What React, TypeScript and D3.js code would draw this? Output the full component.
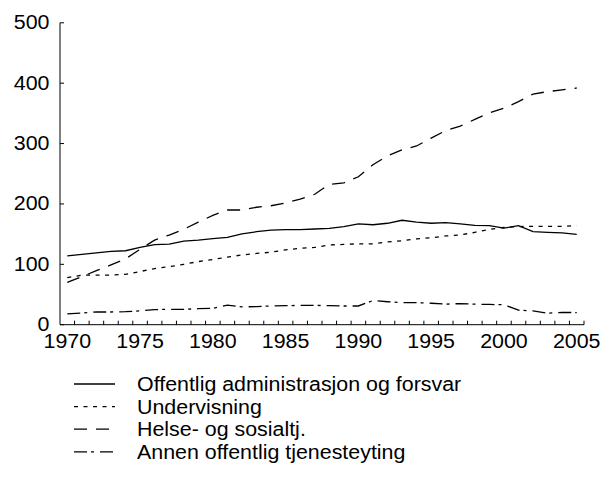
import React from "react";
import * as d3 from "d3";

const years: number[] = d3.range(1970, 2006);
const yTicks = [0, 100, 200, 300, 400, 500];
const xLabelYears = [1970, 1975, 1980, 1985, 1990, 1995, 2000, 2005];

const seriesNames = [
  "Offentlig administrasjon og forsvar",
  "Undervisning",
  "Helse- og sosialtj.",
  "Annen offentlig tjenesteyting",
];

const offentligAdm = [
  114, 116.5, 119, 121.5, 122.5, 128, 132.5, 133.5, 138.5, 140, 142.5, 144.5, 150.5, 154, 156.5, 157.5,
  157.5, 158.5, 159.5, 162.5, 167, 165.5, 168, 173, 170, 168, 169, 167, 164.5, 164, 160, 164, 154, 153, 152, 149.5,
];
const undervisning = [
  78, 82, 82, 82, 83.5, 88, 93, 96, 100, 104.5, 108, 112, 115.5, 118, 120, 124,
  126.5, 128, 132, 133, 134, 134, 137, 139, 142, 144, 147, 148.5, 153, 158, 161, 162.5, 163, 163, 163, 164,
];
const helse = [
  70, 79.5, 89.5, 99, 109, 125, 140, 148.5, 158, 170, 181, 190, 190, 194.5, 197, 201.5,
  208, 216, 232.5, 235, 245, 265, 279.5, 289.5, 296, 309, 321.5, 329, 340, 351, 358.5, 369.5, 382, 386, 389, 392,
];
const annen = [
  18, 19.5, 21, 21, 21.5, 23, 25, 25.5, 25.5, 26.5, 27, 32.5, 29.5, 30, 31, 31.5,
  32, 32, 31.5, 31, 31, 40, 38, 36.5, 36.5, 35.5, 34, 35, 34, 33.5, 33, 24, 23, 19, 20.5, 20,
];

const seriesValues = [offentligAdm, undervisning, helse, annen];
const dashes = ["none", "4 5.5", "13 9", "13 4 3 6"];

const FONT = "'Liberation Sans', Arial, Helvetica, sans-serif";
const SX = 1.07;

function T(props: { x: number; y: number; anchor?: string; dy?: string; children: React.ReactNode }) {
  return (
    <g transform={`translate(${props.x},${props.y}) scale(${SX},1)`}>
      <text x={0} y={0} dy={props.dy} textAnchor={props.anchor || "start"} fontSize={20} fill="#000">
        {props.children}
      </text>
    </g>
  );
}

export default function App() {
  const x = d3.scaleBand<number>().domain(years).range([60, 584]).paddingInner(0).paddingOuter(0);
  const y = d3.scaleLinear().domain([0, 500]).range([324.7, 22.8]);
  const cx = (yr: number) => (x(yr) as number) + x.bandwidth() / 2;
  const line = d3
    .line<number>()
    .x((_, i) => cx(years[i]))
    .y((v) => y(v));

  const boundaries = d3.range(1, years.length + 1).map((i) => 60 + i * x.bandwidth());

  const legendY0 = 384;
  const legendStep = 22.6;

  return (
    <svg
      width={602}
      height={483}
      style={{ position: "absolute", left: 0, top: 0, background: "#fff" }}
      fontFamily={FONT}
    >
      <rect x={0} y={0} width={602} height={483} fill="#fff" />
      {/* y axis */}
      <line x1={60} x2={60} y1={y(500)} y2={y(0)} stroke="#000" strokeWidth={1} />
      {yTicks.map((t) => (
        <g key={t}>
          <line x1={60} x2={64} y1={y(t)} y2={y(t)} stroke="#000" strokeWidth={1} />
          <T x={49.5} y={y(t) - 0.5} dy="0.35em" anchor="end">
            {t}
          </T>
        </g>
      ))}
      {/* x axis */}
      <line x1={60} x2={584} y1={y(0)} y2={y(0)} stroke="#000" strokeWidth={1} />
      {boundaries.map((bx, i) => (
        <line key={i} x1={bx} x2={bx} y1={y(0)} y2={y(0) - 4} stroke="#000" strokeWidth={1} />
      ))}
      {xLabelYears.map((yr) => (
        <T key={yr} x={cx(yr)} y={347.5} anchor="middle">
          {yr}
        </T>
      ))}
      {/* series */}
      {seriesValues.map((vals, i) => (
        <path
          key={i}
          d={line(vals) || ""}
          fill="none"
          stroke="#000"
          strokeWidth={1.3}
          strokeDasharray={dashes[i]}
        />
      ))}
      {/* legend */}
      {seriesNames.map((name, i) => (
        <g key={name}>
          <line
            x1={74}
            x2={115}
            y1={legendY0 + i * legendStep}
            y2={legendY0 + i * legendStep}
            stroke="#000"
            strokeWidth={1.3}
            strokeDasharray={dashes[i]}
          />
          <T x={137} y={legendY0 + i * legendStep} dy="0.35em">
            {name}
          </T>
        </g>
      ))}
    </svg>
  );
}
